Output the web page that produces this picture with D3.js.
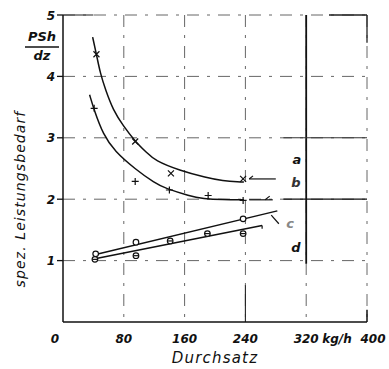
<!DOCTYPE html>
<html>
<head>
<meta charset="utf-8">
<script src="https://cdn.jsdelivr.net/npm/d3@7"></script>
<style>
  html, body { margin: 0; padding: 0; background: #fff; }
  svg text { font-family: "DejaVu Sans", sans-serif; font-style: italic; fill: #111; }
</style>
</head>
<body>
<div id="chart"></div>
<script>
// x values in kg/h, y values in PSh/dz
const xTicks = [0, 80, 160, 240, 320, 400];
const yTicks = [1, 2, 3, 4, 5];

// curve a (x markers)
const curveAx = [39, 44, 49, 56, 66, 79, 95, 110, 121, 153, 189, 210, 232, 238];
const curveAy = [4.64, 4.36, 4.05, 3.78, 3.45, 3.20, 2.94, 2.76, 2.63, 2.47, 2.35, 2.30, 2.28, 2.28];
const markAx = [44, 95, 142, 237];
const markAy = [4.36, 2.94, 2.42, 2.33];

// curve b (+ markers)
const curveBx = [35, 41, 53, 68, 95, 121, 134, 167, 184, 210, 238];
const curveBy = [3.70, 3.45, 3.05, 2.78, 2.49, 2.26, 2.18, 2.05, 2.01, 1.99, 1.99];
const markBx = [41, 95, 140, 191, 237];
const markBy = [3.48, 2.29, 2.15, 2.06, 1.98];

// line c (open circles)
const lineCx = [43, 282];
const lineCy = [1.10, 1.81];
const markCx = [43, 96, 237];
const markCy = [1.11, 1.30, 1.68];

// line d (circles)
const lineDx = [42, 262];
const lineDy = [1.03, 1.57];
const markDx = [42, 96, 141, 190, 237];
const markDy = [1.02, 1.08, 1.32, 1.44, 1.44];

const W = 389, H = 369;
const x = d3.scaleLinear().domain([0, 400]).range([63, 367]);
const y = d3.scaleLinear().domain([0, 5]).range([322, 15]);

const svg = d3.select('#chart').append('svg')
  .attr('width', W).attr('height', H);

// grid lines, dash-dot like the scan
const grid = svg.append('g').attr('fill', 'none');
yTicks.forEach(v => {
  grid.append('line')
    .attr('x1', x(0)).attr('x2', x(400))
    .attr('y1', y(v)).attr('y2', y(v))
    .attr('stroke', '#666')
    .attr('stroke-width', 1)
    .attr('stroke-dasharray', '12 8 3 8');
});
xTicks.slice(1).forEach(v => {
  grid.append('line')
    .attr('x1', x(v)).attr('x2', x(v))
    .attr('y1', y(5)).attr('y2', y(0))
    .attr('stroke', '#666')
    .attr('stroke-width', 1)
    .attr('stroke-dasharray', '12 8 3 8');
});
// heavier solid parts
const solid = (x1, y1, x2, y2, w, c) => grid.append('line')
  .attr('x1', x(x1)).attr('x2', x(x2)).attr('y1', y(y1)).attr('y2', y(y2))
  .attr('stroke', c).attr('stroke-width', w);
solid(320, 5, 320, 0.95, 1.8, '#111');
solid(400, 5, 400, 4.55, 1.3, '#222');
solid(350, 5, 400, 5, 1.3, '#222');
solid(240, 0.6, 240, 0, 1.1, '#222');
solid(290, 2, 400, 2, 1.3, '#111');
solid(290, 3, 400, 3, 1.1, '#333');
solid(0, 5, 40, 5, 1.1, '#333');

// axes frame
const axisG = svg.append('g').attr('stroke', '#111').attr('stroke-width', 1.5);
axisG.append('line').attr('x1', x(0)).attr('x2', x(0)).attr('y1', y(5)).attr('y2', y(0));
axisG.append('line').attr('x1', x(0)).attr('x2', x(400)).attr('y1', y(0)).attr('y2', y(0));
axisG.append('line').attr('x1', x(400)).attr('x2', x(400)).attr('y1', y(0.2)).attr('y2', y(0));

// y ticks and labels
yTicks.forEach(v => {
  svg.append('line').attr('x1', x(0) - 6).attr('x2', x(0))
    .attr('y1', y(v)).attr('y2', y(v))
    .attr('stroke', '#111').attr('stroke-width', 1.3);
  svg.append('text').attr('x', 55).attr('y', y(v) + 4.5)
    .attr('text-anchor', 'end').attr('font-size', 12).attr('font-weight', 'bold')
    .text(v);
});

// x tick labels
xTicks.forEach(v => {
  svg.append('text')
    .attr('x', v === 0 ? x(v) - 8 : (v === 400 ? x(v) + 6 : x(v)))
    .attr('y', 343)
    .attr('text-anchor', 'middle').attr('font-size', 12).attr('font-weight', 'bold')
    .text(v);
});
svg.append('text').attr('x', 337).attr('y', 343)
  .attr('text-anchor', 'middle').attr('font-size', 12).attr('font-weight', 'bold')
  .text('kg/h');

// axis titles
svg.append('text').attr('x', 215).attr('y', 363)
  .attr('text-anchor', 'middle').attr('font-size', 15).attr('letter-spacing', 1.2)
  .text('Durchsatz');
svg.append('text')
  .attr('transform', 'translate(25,199) rotate(-90)')
  .attr('text-anchor', 'middle').attr('font-size', 14).attr('letter-spacing', 1.1)
  .text('spez. Leistungsbedarf');

// unit fraction
svg.append('text').attr('x', 42).attr('y', 41)
  .attr('text-anchor', 'middle').attr('font-size', 13).attr('font-weight', 'bold')
  .text('PSh');
svg.append('line').attr('x1', 25).attr('x2', 59).attr('y1', 47).attr('y2', 47)
  .attr('stroke', '#111').attr('stroke-width', 1.3);
svg.append('text').attr('x', 42).attr('y', 60)
  .attr('text-anchor', 'middle').attr('font-size', 13).attr('font-weight', 'bold')
  .text('dz');

// curves
const line = d3.line().x(d => x(d[0])).y(d => y(d[1])).curve(d3.curveBasis);
const straight = d3.line().x(d => x(d[0])).y(d => y(d[1]));
const plot = svg.append('g').attr('fill', 'none').attr('stroke', '#111').attr('stroke-width', 1.5);

plot.append('path').attr('d', line(d3.zip(curveAx, curveAy)));
plot.append('path').attr('d', line(d3.zip(curveBx, curveBy)));
plot.append('path').attr('d', straight(d3.zip(lineCx, lineCy)));
plot.append('path').attr('d', straight(d3.zip(lineDx, lineDy)));

// leader lines towards labels
const leaders = plot.append('g').attr('stroke-width', 1.2);
const lead = (x1, y1, x2, y2) => leaders.append('line')
  .attr('x1', x(x1)).attr('x2', x(x2)).attr('y1', y(y1)).attr('y2', y(y2));
lead(245, 2.33, 280, 2.33);
lead(245, 2.33, 250, 2.38);
lead(245, 1.99, 276, 1.99);
lead(266, 1.99, 272, 2.05);
lead(274, 1.74, 284, 1.60);
lead(262, 1.57, 262, 1.52);

// markers
const sym = plot.append('g').attr('stroke-width', 1.2);
d3.zip(markAx, markAy).forEach(([a, b]) => {
  const cx = x(a), cy = y(b);
  sym.append('path').attr('d', `M${cx - 3},${cy - 3}L${cx + 3},${cy + 3}M${cx - 3},${cy + 3}L${cx + 3},${cy - 3}`);
});
d3.zip(markBx, markBy).forEach(([a, b]) => {
  const cx = x(a), cy = y(b);
  sym.append('path').attr('d', `M${cx - 3.5},${cy}L${cx + 3.5},${cy}M${cx},${cy - 3.5}L${cx},${cy + 3.5}`);
});
d3.zip(markCx, markCy).forEach(([a, b]) => {
  sym.append('circle').attr('cx', x(a)).attr('cy', y(b)).attr('r', 2.8).attr('fill', '#fff');
});
d3.zip(markDx, markDy).forEach(([a, b]) => {
  const cx = x(a), cy = y(b);
  sym.append('circle').attr('cx', cx).attr('cy', cy).attr('r', 2.8).attr('fill', '#fff');
  sym.append('line').attr('x1', cx - 2.5).attr('x2', cx + 2.5).attr('y1', cy).attr('y2', cy);
});

// curve labels
const lab = [['a', 297, 164, '#111'], ['b', 296, 187, '#333'], ['c', 290, 228, '#888'], ['d', 296, 252, '#111']];
lab.forEach(([t, lx, ly, c]) => {
  svg.append('text').attr('x', lx).attr('y', ly).attr('font-size', 13)
    .attr('font-weight', 'bold').attr('text-anchor', 'middle').style('fill', c).text(t);
});
</script>
</body>
</html>
